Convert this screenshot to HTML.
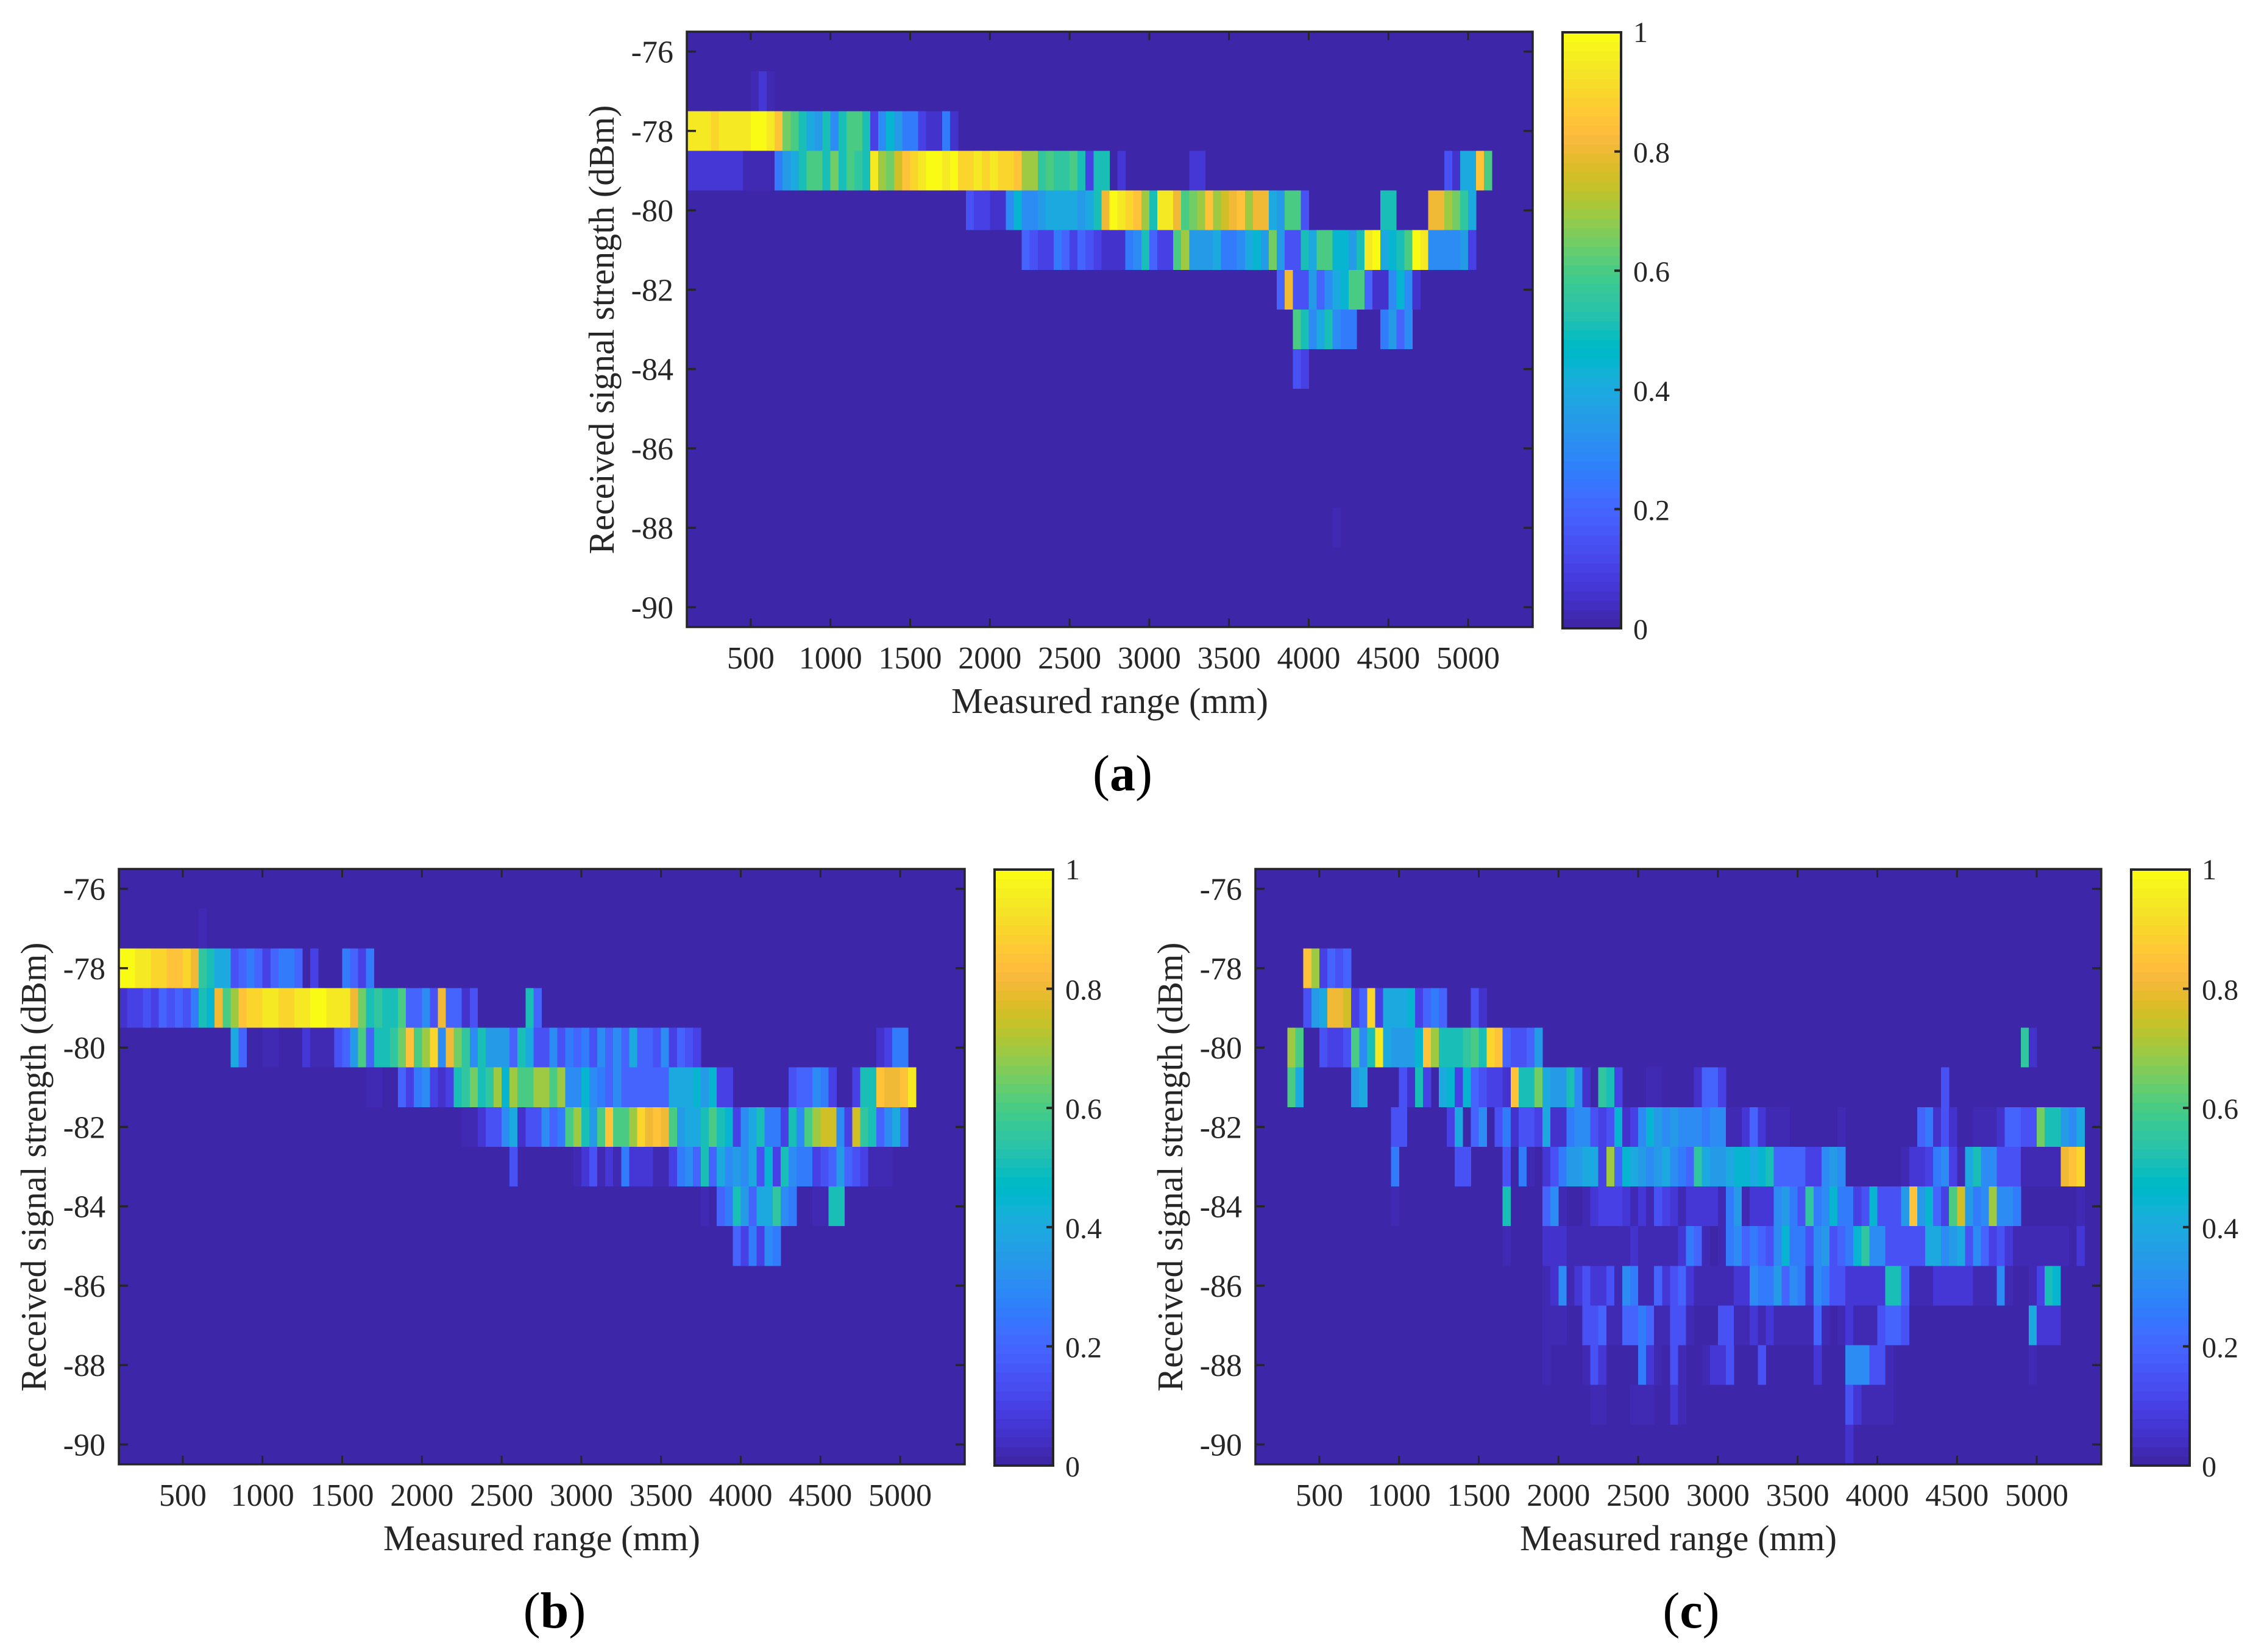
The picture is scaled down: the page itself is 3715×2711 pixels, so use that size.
<!DOCTYPE html>
<html lang="en">
<head>
<meta charset="utf-8">
<title>Received signal strength vs measured range</title>
<style>
html,body{margin:0;padding:0;background:#fff;}
svg{display:block;}
text{font-family:"Liberation Serif",serif;fill:#262626;}
</style>
</head>
<body>
<svg id="figure" xmlns="http://www.w3.org/2000/svg" width="3715" height="2711" viewBox="0 0 3715 2711">
  <rect x="0" y="0" width="3715" height="2711" fill="#ffffff"/>

  <g id="panel-a" transform="translate(0,0)">
    <text transform="translate(1007,541) rotate(-90)" text-anchor="middle" font-size="59" textLength="737" lengthAdjust="spacingAndGlyphs">Received signal strength (dBm)</text>
    <text x="1821" y="1170" text-anchor="middle" font-size="59" textLength="520" lengthAdjust="spacingAndGlyphs">Measured range (mm)</text>
    <text x="1842" y="1297" text-anchor="middle" font-size="84" style="fill:#000">(<tspan font-weight="bold">a</tspan>)</text>
  </g>
  <g id="panel-b" transform="translate(-932,1374)">
    <text transform="translate(1007,541) rotate(-90)" text-anchor="middle" font-size="59" textLength="737" lengthAdjust="spacingAndGlyphs">Received signal strength (dBm)</text>
    <text x="1821" y="1170" text-anchor="middle" font-size="59" textLength="520" lengthAdjust="spacingAndGlyphs">Measured range (mm)</text>
    <text x="1842" y="1297" text-anchor="middle" font-size="84" style="fill:#000">(<tspan font-weight="bold">b</tspan>)</text>
  </g>
  <g id="panel-c" transform="translate(933,1374)">
    <text transform="translate(1007,541) rotate(-90)" text-anchor="middle" font-size="59" textLength="737" lengthAdjust="spacingAndGlyphs">Received signal strength (dBm)</text>
    <text x="1821" y="1170" text-anchor="middle" font-size="59" textLength="520" lengthAdjust="spacingAndGlyphs">Measured range (mm)</text>
    <text x="1842" y="1297" text-anchor="middle" font-size="84" style="fill:#000">(<tspan font-weight="bold">c</tspan>)</text>
  </g>
</svg>

<script>
// Axis tick labels and limits
const rangeTicks = [500,1000,1500,2000,2500,3000,3500,4000,4500,5000];
const rssiTicks = [-76,-78,-80,-82,-84,-86,-88,-90];
const colorbarTicks = [0,0.2,0.4,0.6,0.8,1];
const rangeLimits = [99,5405];
const rssiLimits = [-90.5,-75.5];
const firstBinMm = 100;
const binWidthMm = 50;
const valueScale = 10; // cell values are stored in tenths of the colorbar range

// Panel (a): each row segment has an RSSI, a starting bin, and bin values
const panelARssi = [-77,-78,-79,-79,-79,-80,-80,-80,-81,-82,-83,-83,-84,-88];
const panelAOffset = [8,0,0,63,95,35,87,93,42,74,76,87,76,81];
const panelAValues = [
 [.3,.7,.3],
 [9.5,9.5,9.5,9,9.5,9.5,9.5,9.5,10,10,9.5,8.5,6.5,6,5,4,3.5,5,3,5,6,6,5,1,3,4.5,3.5,2.5,2.5,1,.5,.5,2.5,.5],
 [.7,.7,.7,.7,.7,.7,.7,.3,.3,.3,.3,2.5,3.5,4,5,6,6,5,6.5,5,6,5.5,5,9.5,7,6.5,7.5,8.5,9,9.5,10,10,9.5,10,9,9,9.5,9,9.5,9,9,8.5,7,7,5.5,6,5.5,5.5,6,5,1,5,5,0,.7],
 [.7,.7],
 [1.5,.5,4,4,8.5,6],
 [1.5,1,1,.5,.5,3,4.5,3,3,3.5,4,4,4,4,3.5,4,5,8,10,9.5,9,8.5,7,5,9.5,9.5,8,6,6.5,7,8.5,7,7.5,8,8.5,7,8,8,4,3.5,6,6,1.5],
 [5,5],
 [8,8,7,6.5,5.5,4],
 [2,1.5,1,1,2.5,2,1,2,1.5,1,.5,.5,.5,2.5,3,5,2,1,1,6,7,3.5,3.5,3.5,4,2.5,2.5,3,4,4.5,3.5,6.5,3.5,1.5,1.5,5,4,6,6,4.5,4.5,3.5,5,9.5,10,4,4.5,5,6,10,9.5,3,3,3,3,3.5,1],
 [2,8,1.5,1.5,3.5,2,3,4,4.5,6,6,2,.5,.5,3,4.5,3,.5],
 [6,5,3,4,5,3,2.5,2.5],
 [2.5,3.5,2,3],
 [1.5,1],
 [.3]
];

// Panel (b)
const panelBRssi = [-77,-78,-79,-79,-80,-80,-81,-81,-82,-83,-83,-84,-84,-85];
const panelBOffset = [10,0,0,51,14,95,31,84,43,49,57,73,87,77];
const panelBValues = [
 [.2],
 [10,10,9.5,9.5,9,9,8.5,8.5,9,8,5.5,5,4,4,1.5,2,2.5,2,1,2,2.5,2.5,2,0,1,0,0,0,2.5,2,1,2.5],
 [.5,1,1,1.5,1,2,1.5,2,1.5,2.5,5,4.5,8,6,7,8.5,9,9,9.5,9.5,9,9,9.5,9.5,10,10,9.5,9.5,9.5,8,6.5,5,5.5,5,5,6,2,2,3,1.5,8,2,2,.5,1.5],
 [5,2],
 [4,2,0,0,.3,.3,0,0,0,.7,.3,.3,.3,1.5,2,3.5,6,2,5,5,5.5,6.5,8.5,6,7,9,3,8,6.5,5.5,3,5,3.5,3.5,3.5,2,5,4,1.5,1.5,3,1.5,2.5,2,2.5,1.5,3,2,3,2,4,2,2,1.5,3,1,2,1.5,1],
 [.5,1,2.5,2.5],
 [.3,.3,0,0,2,1,2.5,3,1,.5,1,5,5.5,6.5,5,5.5,7,4.5,7,6,6,7,7,6,7,3,3,4.5,3,2.5,2,3,2,2,2,2,2,2,4,4,4,4.5,3.5,4.5,1,1],
 [1.5,2,2,3,2.5,1,0,0,1,5,5,8.5,8,8,8.5,9.5],
 [.2,.3,.7,1.5,1.5,3,4,.5,1.5,1.5,3,2,2.5,6,7,5,3.5,6,8.5,6,6,7,9,8,8.5,8,6,3.5,4,4,5,6,5,4.5,1,3,4,5,2.5,2.5,1,5,3,6,7,7.5,7.5,3,1,7.5,5.5,5,2,3,4,2],
 [1.5],
 [.3,.7,1.5,.3,.7,.3,2.5,.7,.7,.7,.2,.3,1,2.5,3,2,5,2,4,3,3.5,3,4,1.5,4.5,1,5,3,2.5,2.5,1,1.5,2,3.5,2,1.5,1,.2,.2,.2],
 [.3,0,2,2.5,5,3.5,2,4,4,5.5,3,2.5],
 [.2,.2,5,5],
 [2,1,2.5,1,3,2.5]
];

// Panel (c)
const panelCRssi = [-78,-79,-79,-80,-80,-81,-81,-81,-81,-81,-81,-81,-81,-82,-82,-82,-82,-82,-83,-83,-83,-83,-83,-83,-84,-84,-84,-84,-85,-85,-86,-87,-87,-88,-88,-88,-88,-88,-88,-88,-88,-89,-89,-89,-89,-90];
const panelCOffset = [6,6,27,4,96,4,12,18,23,43,49,55,86,17,24,73,83,90,17,25,31,33,36,81,17,31,36,103,31,36,36,36,97,36,41,48,56,63,70,74,97,42,47,52,74,74];
const panelCValues = [
 [8.5,7,1,2,1.5,2],
 [1.5,3.5,4,8,8,7.5,1,2,9,1,4,4,4,4.5,1,2,2.5,2],
 [1.5,.5],
 [7,6,0,0,1.5,1,1,1.5,6,3,5,9.5,4,3.5,3.5,3.5,4.5,8.5,7,5,5,5,5.5,6,5,9,8.5,2,1.5,1.5,2,3.5],
 [5.5,.5],
 [6,4],
 [3.5,4],
 [1.5,.5,5,1],
 [4,4.5,1,4.5,2,1.5,1,1,.5,8.5,5,5,6.5,4,3.5,3.5,5,3,.5],
 [5.5,5,1],
 [.3,.3],
 [.5,2,2,1],
 [1.5],
 [1.5,1.5],
 [1,4,0,2,3,0,1.5,2.5,.5,1.5,1.5,1,4,.5,.5,2.5,3,3,1.5,1,1.5,4.5,.5,1,3,4.5,3.5,3,3.5,3,3,3,2.5,3,3,.3,.3,.7,2,.7,.3,.2,.2],
 [.2],
 [2,2.5,.5,1.5,.5],
 [.3,.3,.2,.5,2,2,1.5,1.5,6.5,5,5,3.5,3,4],
 [2.5],
 [1.5,1.5],
 [1.5],
 [2.5,.3],
 [.7,1.5,2.5,3.5,3.5,4,4,1,7,2,4.5,4,3.5,3,3.5,4,3,2.5,2,5.5,4,3.5,3.5,4,4.5,4.5,4,4.5,5,2,2,2,2,1,1,3,3.5,3],
 [.3,.7,.7,1,2.5,3,1,.3,4,5,3,3,1.5,1.5,1.5,.3,.3,.3,.3,.3,8,8.5,9],
 [.3],
 [5],
 [2,3,.3,0,0,.2,.7,1,1,1,.7,.3,.7,.3,1.5,1,.7,.3,.7,.7,.7,.7,.3,2.5,3.5,.3,.7,.7,.7,3,3.5,2.5,1.5,5.5,2.5,3,4.5,2.5,2.5,1,1.5,4.5,1.5,1.5,1.5,3.5,8.5,3.5,4.5,2,1,6,7.5,3.5,2.5,3,7,3,3,2.5],
 [.3],
 [.2],
 [.5,.5,.5,.2,.3,.3,.3,.3,.3,.2,.3,.5,.3,.3,.3,.3,.3,.7,2.5,2,.3,0,.3,2.5,3,2,2.5,2,1.5,3,4.5,2.5,2.5,1.5,3,3.5,1.5,2,2.5,4.5,5.5,3,3,1.5,1.5,1.5,1.5,1.5,4,4,3,3.5,4,1.5,3,2,1,1.5,.7,.2,.2,.2,.2,.2,.2,.2,0,.7],
 [.3,.5,3,.3,.7,1.5,.7,.7,1.5,.2,3,2.5,.3,.3,2,.7,1.5,2,.7,.2,.2,.2,.3,.3,.7,.7,3,2.5,2.5,3.5,2,3,2.5,.7,3,2.5,1.5,1.5,.7,.7,.7,.7,.7,5,5,2,.3,.2,.3,.7,.7,.7,.7,.7,.3,.3,.3,3,.3,0,0,.3,1,5,4.5],
 [.2,.3,.3,0,0,1.5,1.5,2,.2,.2,2,2,2.5,2,.3,.2,1.5,1.5,.3,0,0,0,1.5,1.5,.2,.3,.7,.3,.7,.3,.3,.2,.2,.3,2,.3,0,.3,.7,.3,.3,.3,1.5,2,2,1.5],
 [4,.7,.7,.7],
 [.2],
 [.3,1.5,.7],
 [2.5,.7,.3,0,1.5,.3],
 [.3,.7,.7,1.5],
 [1.5],
 [.7],
 [3,3,3,1.5,1.5,.3],
 [.3],
 [.2,.2],
 [.2,.3,.2],
 [.7,.3],
 [1.5,.7,.2,.3,.3,.3],
 [.5]
];

// MATLAB parula colormap, 64 levels
const parula = [
[.2422,.1504,.6603],[.2504,.1650,.7076],[.2578,.1818,.7511],[.2647,.1978,.7952],[.2706,.2147,.8364],[.2751,.2342,.8710],[.2783,.2559,.8991],[.2803,.2782,.9221],
[.2813,.3006,.9414],[.2810,.3228,.9579],[.2795,.3447,.9717],[.2760,.3667,.9829],[.2699,.3892,.9906],[.2602,.4123,.9952],[.2440,.4358,.9988],[.2206,.4603,.9973],
[.1963,.4847,.9892],[.1834,.5074,.9798],[.1786,.5289,.9682],[.1764,.5499,.9520],[.1687,.5703,.9359],[.1540,.5902,.9218],[.1460,.6091,.9079],[.1380,.6276,.8973],
[.1248,.6459,.8883],[.1113,.6635,.8763],[.0952,.6798,.8598],[.0689,.6948,.8394],[.0297,.7082,.8163],[.0036,.7197,.7917],[.0067,.7312,.7660],[.0433,.7411,.7394],
[.0964,.7500,.7120],[.1408,.7584,.6842],[.1717,.7670,.6554],[.1938,.7758,.6251],[.2161,.7843,.5923],[.2470,.7918,.5567],[.2906,.7973,.5188],[.3406,.8008,.4789],
[.3909,.8029,.4354],[.4456,.8024,.3909],[.5044,.7993,.3480],[.5616,.7942,.3045],[.6174,.7876,.2612],[.6720,.7793,.2227],[.7242,.7698,.1910],[.7738,.7598,.1646],
[.8203,.7498,.1535],[.8634,.7406,.1596],[.9035,.7330,.1774],[.9393,.7288,.2100],[.9728,.7298,.2394],[.9956,.7434,.2371],[.9970,.7659,.2199],[.9952,.7893,.2028],
[.9892,.8136,.1885],[.9786,.8386,.1766],[.9676,.8639,.1643],[.9610,.8890,.1537],[.9597,.9135,.1423],[.9628,.9373,.1265],[.9691,.9606,.1064],[.9769,.9839,.0805]
];

const SVG_NS = 'http://www.w3.org/2000/svg';
const INK = '#262626';
const plot = {left:1127, right:2515, top:52, bottom:1029};
const bar = {left:2564, right:2660, top:53, bottom:1031};

function xScale(mm){
  return plot.left + (mm - rangeLimits[0]) / (rangeLimits[1] - rangeLimits[0]) * (plot.right - plot.left);
}
function yScale(dbm){
  return plot.bottom - (dbm - rssiLimits[0]) / (rssiLimits[1] - rssiLimits[0]) * (plot.bottom - plot.top);
}
function colorOf(value){
  const idx = Math.max(0, Math.min(63, Math.floor(value * 64)));
  const c = parula[idx];
  return 'rgb(' + Math.round(c[0]*255) + ',' + Math.round(c[1]*255) + ',' + Math.round(c[2]*255) + ')';
}
function make(tag, attrs, parent){
  const el = document.createElementNS(SVG_NS, tag);
  for (const k in attrs) el.setAttribute(k, attrs[k]);
  parent.appendChild(el);
  return el;
}

function drawPanel(group, rssi, offsets, values){
  const bg = make('rect', {x:plot.left, y:plot.top, width:plot.right-plot.left, height:plot.bottom-plot.top, fill:colorOf(0)}, group);
  
  

  values.forEach(function(row, r){
    row.forEach(function(v, k){
      if (!v) return;
      const mm = firstBinMm + (offsets[r] + k) * binWidthMm;
      const x0 = xScale(mm);
      const x1 = xScale(mm + binWidthMm);
      const y0 = yScale(rssi[r] + 0.5);
      const y1 = yScale(rssi[r] - 0.5);
      const cell = make('rect', {x:x0, y:y0, width:x1-x0+0.4, height:y1-y0, fill:colorOf(v/valueScale), 'shape-rendering':'crispEdges'}, group);
      
      
    });
  });

  const frame = make('rect', {x:plot.left, y:plot.top, width:plot.right-plot.left, height:plot.bottom-plot.top, fill:'none', stroke:INK, 'stroke-width':3.5}, group);
  
  

  rangeTicks.forEach(function(t){
    const x = xScale(t);
    const tickBottom = make('line', {x1:x, x2:x, y1:plot.bottom, y2:plot.bottom-14, stroke:INK, 'stroke-width':3}, group);
    
    
    const tickTop = make('line', {x1:x, x2:x, y1:plot.top, y2:plot.top+14, stroke:INK, 'stroke-width':3}, group);
    
    
    const label = make('text', {x:x, y:1097, 'text-anchor':'middle', 'font-size':52}, group);
    label.textContent = String(t);
    
    
  });

  rssiTicks.forEach(function(t){
    const y = yScale(t);
    const tickLeft = make('line', {x1:plot.left, x2:plot.left+15, y1:y, y2:y, stroke:INK, 'stroke-width':3.5}, group);
    
    
    const tickRight = make('line', {x1:plot.right, x2:plot.right-15, y1:y, y2:y, stroke:INK, 'stroke-width':3.5}, group);
    
    
    const label = make('text', {x:1105, y:y+18, 'text-anchor':'end', 'font-size':52}, group);
    label.textContent = String(t);
    
    
  });

  const stepH = (bar.bottom - bar.top) / parula.length;
  parula.forEach(function(c, i){
    const yy = bar.bottom - (i + 1) * stepH;
    const swatch = make('rect', {x:bar.left, y:yy, width:bar.right-bar.left, height:stepH+0.5, fill:colorOf((i + 0.5) / parula.length), 'shape-rendering':'crispEdges'}, group);
    
    
  });
  const barFrame = make('rect', {x:bar.left, y:bar.top, width:bar.right-bar.left, height:bar.bottom-bar.top, fill:'none', stroke:INK, 'stroke-width':4}, group);
  
  

  colorbarTicks.forEach(function(t){
    const y = bar.bottom - t * (bar.bottom - bar.top);
    if (t > 0 && t < 1) {
      const tick = make('line', {x1:bar.right, x2:bar.right-11, y1:y, y2:y, stroke:INK, 'stroke-width':4}, group);
      
      
    }
    const label = make('text', {x:2680, y:(t === 1 ? y+16 : y+18), 'font-size':48}, group);
    label.textContent = String(t);
    
    
  });
}

drawPanel(document.getElementById('panel-a'), panelARssi, panelAOffset, panelAValues);
drawPanel(document.getElementById('panel-b'), panelBRssi, panelBOffset, panelBValues);
drawPanel(document.getElementById('panel-c'), panelCRssi, panelCOffset, panelCValues);
</script>
</body>
</html>
